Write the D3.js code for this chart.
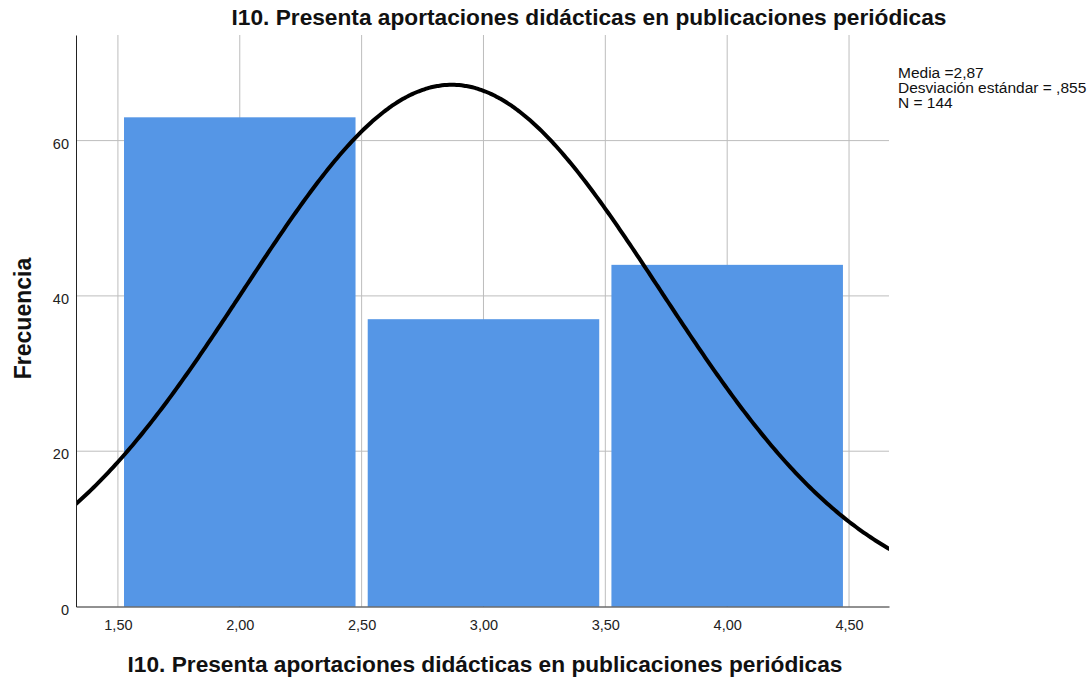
<!DOCTYPE html>
<html>
<head>
<meta charset="utf-8">
<script src="https://cdn.jsdelivr.net/npm/d3@7"></script>
<style>
  body { margin: 0; background: #fff; }
  svg { display: block; font-family: "Liberation Sans", Arial, sans-serif; }
</style>
</head>
<body>
<svg id="chart" width="1092" height="682"></svg>
<script>
// Histogram of item I10 with fitted normal curve
const categories = [2, 3, 4];
const frequencies = [63, 37, 44];
const xTickValues = [1.5, 2.0, 2.5, 3.0, 3.5, 4.0, 4.5];
const yTickValues = [0, 20, 40, 60];
const statsLines = ["Media =2,87", "Desviación estándar = ,855", "N = 144"];
const meanValue = 2.87;
const sdValue = 0.855;
const nValue = 144;
const binWidth = 1;

const titleText = "I10. Presenta aportaciones didácticas en publicaciones periódicas";

const svg = d3.select("#chart");
const plotLeft = 76, plotRight = 889, plotTop = 35, plotBottom = 606.5;

const x = d3.scaleLinear().domain([1.328, 4.664]).range([plotLeft, plotRight]);
const y = d3.scaleLinear().domain([0, 73.6]).range([plotBottom, plotTop]);

const fmt = v => d3.format(".2f")(v).replace(".", ",");
const fontFamily = "Liberation Sans, Arial, sans-serif";

// grid lines
svg.append("g").selectAll("line").data(xTickValues).join("line")
  .attr("x1", d => x(d)).attr("x2", d => x(d))
  .attr("y1", plotTop).attr("y2", plotBottom)
  .attr("stroke", "#bdbdbd").attr("stroke-width", 1);
svg.append("g").selectAll("line").data(yTickValues.filter(d => d > 0)).join("line")
  .attr("x1", plotLeft).attr("x2", plotRight)
  .attr("y1", d => y(d)).attr("y2", d => y(d))
  .attr("stroke", "#bdbdbd").attr("stroke-width", 1);

// bars
svg.append("g").selectAll("rect").data(categories).join("rect")
  .attr("x", d => x(d - 0.475))
  .attr("width", d => x(d + 0.475) - x(d - 0.475))
  .attr("y", (d, i) => y(frequencies[i]))
  .attr("height", (d, i) => y(0) - y(frequencies[i]))
  .attr("fill", "#5596e6");

// normal curve
svg.append("clipPath").attr("id", "plotClip").append("rect")
  .attr("x", plotLeft).attr("y", plotTop).attr("width", plotRight - plotLeft).attr("height", plotBottom - plotTop);
const pdf = v => nValue * binWidth / (sdValue * Math.sqrt(2 * Math.PI)) *
  Math.exp(-0.5 * Math.pow((v - meanValue) / sdValue, 2));
const xs = d3.range(1.3, 4.7, 0.01);
svg.append("path")
  .datum(xs)
  .attr("clip-path", "url(#plotClip)")
  .attr("d", d3.line().x(d => x(d)).y(d => y(pdf(d))).curve(d3.curveBasis))
  .attr("fill", "none").attr("stroke", "#000").attr("stroke-width", 4);

// axes
const xAxis = d3.axisBottom(x).tickValues(xTickValues).tickFormat(fmt).tickSize(0);
const gx = svg.append("g").attr("transform", `translate(0,${plotBottom})`).call(xAxis);
gx.select(".domain").attr("stroke", "#222");
gx.selectAll("text").attr("y", 23.5).attr("dy", null)
  .attr("font-size", 14.5).attr("fill", "#222").attr("font-family", fontFamily);

const yAxis = d3.axisLeft(y).tickValues(yTickValues).tickSize(0);
const gy = svg.append("g").attr("transform", `translate(${plotLeft},0)`).call(yAxis);
gy.select(".domain").attr("stroke", "#222");
gy.selectAll("text").attr("x", -7).attr("dy", 7.5)
  .attr("font-size", 14.5).attr("fill", "#222").attr("font-family", fontFamily);

// titles
svg.append("text").attr("x", 589).attr("y", 25).attr("text-anchor", "middle")
  .attr("font-size", 22.7).attr("font-weight", "bold").attr("fill", "#111").text(titleText);
svg.append("text").attr("x", 485).attr("y", 672).attr("text-anchor", "middle")
  .attr("font-size", 22.7).attr("font-weight", "bold").attr("fill", "#111").text(titleText);
svg.append("text").attr("transform", "translate(31,318.5) rotate(-90)").attr("text-anchor", "middle")
  .attr("font-size", 23).attr("font-weight", "bold").attr("fill", "#111").text("Frecuencia");

// statistics box
svg.append("g").selectAll("text").data(statsLines).join("text")
  .attr("x", 898).attr("y", (d, i) => 78 + i * 15)
  .attr("font-size", 15.5).attr("fill", "#111").text(d => d);
</script>
</body>
</html>
